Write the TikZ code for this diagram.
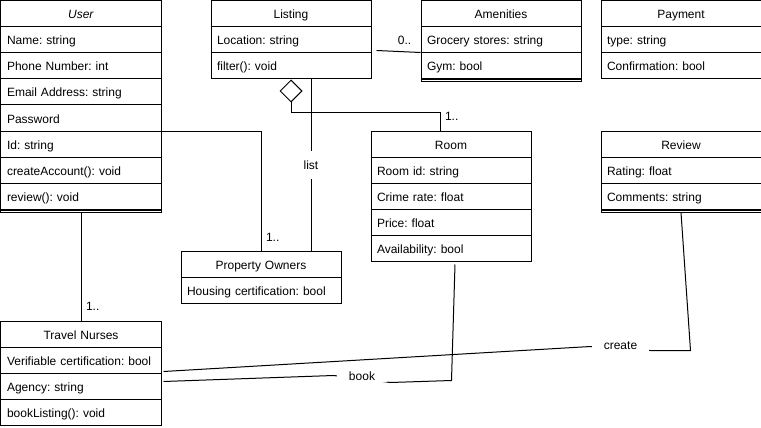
\documentclass[tikz,border=0pt]{standalone}
\usepackage{fontspec}
\setmainfont{Liberation Sans}
\usetikzlibrary{shapes.geometric}
\frenchspacing

\tikzset{
    row/.style={draw, anchor=north west, minimum width=160pt, minimum height=26pt,
        text width=148pt, inner xsep=6pt, inner ysep=0pt, align=left,
        text height=11pt, text depth=1pt},
    head/.style={row, align=center},
    strip/.style={draw, anchor=north west, minimum width=160pt, minimum height=2pt, inner sep=0pt},
    agg/.style={draw, diamond, aspect=1, fill=white, minimum width=22pt, minimum height=22pt,
        inner sep=0pt, anchor=north},
    lbl/.style={inner sep=1pt},
    gap/.style={fill=white, inner xsep=12pt, inner ysep=2pt}
}

\begin{document}
\begin{tikzpicture}[x=1pt, y=-1pt, line width=1pt, font=\fontsize{12pt}{14pt}\selectfont]
    \useasboundingbox (-0.5,-0.5) rectangle (760.5,427.5);

    \node[head] (user0) at (0,0) {\textit{User}};
    \foreach \t [count=\i] in {Name: string, Phone Number: int, Email Address: string,
        Password, Id: string, createAccount(): void, review(): void} {
        \node[row] (user\i) at (0,26*\i) {\t};
      }
    \node[strip] (userend) at (user7.south west) {};

    \node[head] (list0) at (210,0) {Listing};
    \foreach \t [count=\i] in {Location: string, filter(): void} {
        \node[row] (list\i) at (210,26*\i) {\t};
      }

    \node[head] (amen0) at (420,0) {Amenities};
    \foreach \t [count=\i] in {Grocery stores: string, Gym: bool} {
        \node[row] (amen\i) at (420,26*\i) {\t};
      }
    \node[strip] (amenend) at (amen2.south west) {};

    \node[head] (pay0) at (600,0) {Payment};
    \foreach \t [count=\i] in {type: string, Confirmation: bool} {
        \node[row] (pay\i) at (600,26*\i) {\t};
      }

    \node[head] (room0) at (370,130) {Room};
    \foreach \t [count=\i] in {Room id: string, Crime rate: float, Price: float,
        Availability: bool} {
        \node[row] (room\i) at (370,130+26*\i) {\t};
      }

    \node[head] (rev0) at (600,130) {Review};
    \foreach \t [count=\i] in {Rating: float, Comments: string} {
        \node[row] (rev\i) at (600,130+26*\i) {\t};
      }
    \node[strip] (revend) at (rev2.south west) {};

    \node[head] (po0) at (180,250) {Property Owners};
    \node[row] (po1) at (180,276) {Housing certification: bool};

    \node[head] (tn0) at (0,320) {Travel Nurses};
    \foreach \t [count=\i] in {Verifiable certification: bool, Agency: string,
        bookListing(): void} {
        \node[row] (tn\i) at (0,320+26*\i) {\t};
      }

    \draw (userend.south) -- (tn0.north);
    \node[lbl, anchor=west] (m1) at (84,306) {1..};

    \draw (user4.south east) -| (po0.north);
    \node[lbl, anchor=west] (m2) at (264,237) {1..};

    \draw ([xshift=20pt]list2.south) -- node[gap, inner ysep=10pt] (lst) {list} ([xshift=50pt]po0.north);

    \node[agg] (agg) at (list2.south) {};
    \draw (agg.south) -- ++(0,10) -| ([xshift=-11pt]room0.north);
    \node[lbl, anchor=west] (m3) at (443,116) {1..};

    \draw ([shift={(5,-3)}]list1.south east) -- ([shift={(0,-1)}]amen1.south west);
    \node[lbl] (m4) at (404,40) {0..};

    \draw (revend.south) -- (690,350) -- (650,350) -- node[gap, yshift=3pt] (create) {create} (590,346)
        -- ([shift={(2,-2)}]tn1.south east);

    \draw ([shift={(4,3)}]room4.south) -- (451,380) -- (390,382) -- node[gap, yshift=3pt] (book) {book} (333,375)
        -- ([shift={(2,8)}]tn1.south east);
  \end{tikzpicture}
\end{document}
